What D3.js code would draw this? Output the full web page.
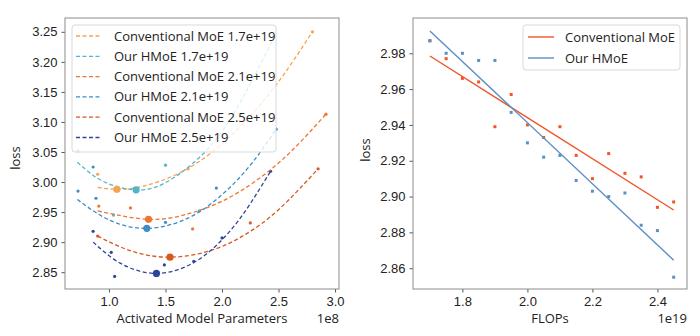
<!DOCTYPE html>
<html>
<head>
<meta charset="utf-8">
<script src="https://cdn.jsdelivr.net/npm/d3@7"></script>
<style>
  body { margin: 0; background: #fff; }
  svg { font-family: "Open Sans", "DejaVu Sans", sans-serif; }
</style>
</head>
<body>
<svg id="chart" width="700" height="336"></svg>
<script>
// ---------- left panel data (params in 1e8, loss) ----------
const leftLabels = [
  "Conventional MoE 1.7e+19", "Our HMoE 1.7e+19",
  "Conventional MoE 2.1e+19", "Our HMoE 2.1e+19",
  "Conventional MoE 2.5e+19", "Our HMoE 2.5e+19"
];
const leftColors = ["#f7a24f", "#52b4cf", "#ec7530", "#3d8cc4", "#d45a1e", "#2f4597"];

const curveConv17 = [[0.90, 2.991], [1.07, 2.988], [1.30, 2.993], [1.60, 3.013], [1.90, 3.048], [2.20, 3.100], [2.50, 3.167], [2.80, 3.250]];
const curveHmoe17 = [[0.72, 3.033], [0.95, 3.001], [1.24, 2.987], [1.50, 2.999], [1.80, 3.041], [2.10, 3.113], [2.46, 3.241]];
const curveConv21 = [[0.90, 2.952], [1.35, 2.938], [1.70, 2.947], [2.00, 2.968], [2.30, 3.002], [2.60, 3.049], [2.92, 3.113]];
const curveHmoe21 = [[0.72, 2.971], [1.00, 2.937], [1.335, 2.923], [1.70, 2.940], [2.00, 2.979], [2.25, 3.028], [2.48, 3.088]];
const curveConv25 = [[0.90, 2.910], [1.20, 2.885], [1.54, 2.875], [1.90, 2.886], [2.20, 2.912], [2.50, 2.954], [2.85, 3.022]];
const curveHmoe25 = [[0.86, 2.900], [1.10, 2.865], [1.42, 2.848], [1.75, 2.866], [2.00, 2.904], [2.20, 2.950], [2.43, 3.018]];
const leftCurves = [curveConv17, curveHmoe17, curveConv21, curveHmoe21, curveConv25, curveHmoe25];

const pointsConv17 = [[0.90, 3.013], [1.70, 3.022], [2.80, 3.250]];
const pointsHmoe17 = [[0.726, 3.052], [1.04, 2.945], [1.50, 3.028], [1.80, 2.952], [2.46, 3.241]];
const pointsConv21 = [[0.91, 2.960], [1.19, 2.957], [1.74, 2.922], [2.92, 3.113]];
const pointsHmoe21 = [[0.726, 2.985], [0.86, 3.025], [0.885, 2.973], [1.50, 2.933], [1.95, 2.990], [2.48, 3.088]];
const pointsConv25 = [[0.90, 2.910], [2.25, 2.932], [2.85, 3.022]];
const pointsHmoe25 = [[0.86, 2.918], [1.02, 2.883], [1.05, 2.843], [1.49, 2.862], [1.75, 2.868], [2.00, 2.907], [2.43, 3.018]];
const leftPoints = [pointsConv17, pointsHmoe17, pointsConv21, pointsHmoe21, pointsConv25, pointsHmoe25];

const leftMinima = [[1.07, 2.988], [1.24, 2.987], [1.35, 2.938], [1.335, 2.923], [1.54, 2.875], [1.42, 2.848]];

const leftXTicks = [1.0, 1.5, 2.0, 2.5, 3.0];
const leftYTicks = [2.85, 2.90, 2.95, 3.00, 3.05, 3.10, 3.15, 3.20, 3.25];

// ---------- right panel data (FLOPs in 1e19, loss) ----------
const flops = [1.70, 1.75, 1.80, 1.85, 1.90, 1.95, 2.00, 2.05, 2.10, 2.15, 2.20, 2.25, 2.30, 2.35, 2.40, 2.45];
const convLoss = [2.987, 2.977, 2.966, 2.964, 2.939, 2.957, 2.940, 2.933, 2.939, 2.923, 2.910, 2.924, 2.913, 2.911, 2.894, 2.897];
const hmoeLoss = [2.987, 2.980, 2.980, 2.976, 2.976, 2.947, 2.930, 2.922, 2.923, 2.909, 2.903, 2.900, 2.902, 2.884, 2.881, 2.855];
const convFit = [[1.70, 2.9785], [2.45, 2.8925]];
const hmoeFit = [[1.70, 2.9925], [2.45, 2.8645]];
const rightLabels = ["Conventional MoE", "Our HMoE"];
const rightColors = ["#f0552a", "#5b8fc5"];
const rightXTicks = [1.8, 2.0, 2.2, 2.4];
const rightYTicks = [2.86, 2.88, 2.90, 2.92, 2.94, 2.96, 2.98];

const svg = d3.select("#chart");
const frameColor = "#8c8c8c";
const fontSize = 13;

function drawFrame(g, x, y, xTicks, yTicks, xFmt, yFmt) {
  const [x0, x1] = x.range();
  const [y0, y1] = y.range();
  g.append("g")
    .attr("transform", `translate(0,${y0})`)
    .call(d3.axisBottom(x).tickValues(xTicks).tickFormat(xFmt).tickSize(3.5).tickPadding(4))
    .call(a => a.select(".domain").remove());
  g.append("g")
    .attr("transform", `translate(${x0},0)`)
    .call(d3.axisLeft(y).tickValues(yTicks).tickFormat(yFmt).tickSize(3.5).tickPadding(4))
    .call(a => a.select(".domain").remove());
  g.selectAll(".tick line").attr("stroke", "#555");
  g.selectAll(".tick text").attr("fill", "#222").style("font-size", fontSize + "px").style("font-family", null);
  g.append("rect")
    .attr("x", x0).attr("y", y1)
    .attr("width", x1 - x0).attr("height", y0 - y1)
    .attr("fill", "none").attr("stroke", frameColor).attr("stroke-width", 1);
}

// ---------- left panel ----------
const xL = d3.scaleLinear().domain([0.611, 3.035]).range([65, 339]);
const yL = d3.scaleLinear().domain([2.822, 3.273]).range([289, 18]);
const gL = svg.append("g");
drawFrame(gL, xL, yL, leftXTicks, leftYTicks, d3.format(".1f"), d3.format(".2f"));

const lineL = d3.line().x(d => xL(d[0])).y(d => yL(d[1])).curve(d3.curveNatural);

leftPoints.forEach((pts, i) => {
  gL.selectAll(null).data(pts).enter().append("circle")
    .attr("cx", d => xL(d[0])).attr("cy", d => yL(d[1]))
    .attr("r", 1.6).attr("fill", leftColors[i]);
});
leftCurves.forEach((c, i) => {
  gL.append("path").datum(c)
    .attr("d", lineL)
    .attr("fill", "none").attr("stroke", leftColors[i])
    .attr("stroke-width", 1.3).attr("stroke-dasharray", "4,2.5");
});
gL.selectAll(null).data(leftMinima).enter().append("circle")
  .attr("cx", d => xL(d[0])).attr("cy", d => yL(d[1]))
  .attr("r", 3.6).attr("fill", (d, i) => leftColors[i]);

// left legend
const legL = gL.append("g");
legL.append("rect")
  .attr("x", 72).attr("y", 25).attr("width", 204).attr("height", 127).attr("rx", 3)
  .attr("fill", "#fff").attr("fill-opacity", 0.8).attr("stroke", "#d9d9d9");
leftLabels.forEach((lab, i) => {
  const yy = 36 + i * 20.3;
  legL.append("line").attr("x1", 76).attr("x2", 100).attr("y1", yy).attr("y2", yy)
    .attr("stroke", leftColors[i]).attr("stroke-width", 1.3).attr("stroke-dasharray", "4,2.5");
  legL.append("text").attr("x", 114).attr("y", yy).attr("dy", "0.35em")
    .style("font-size", fontSize + "px").attr("fill", "#222").text(lab);
});

gL.append("text").attr("transform", "translate(20,158) rotate(-90)")
  .attr("text-anchor", "middle").style("font-size", fontSize + "px").attr("fill", "#222").text("loss");
gL.append("text").attr("x", 202).attr("y", 323)
  .attr("text-anchor", "middle").style("font-size", fontSize + "px").attr("fill", "#222").text("Activated Model Parameters");
gL.append("text").attr("x", 339).attr("y", 323)
  .attr("text-anchor", "end").style("font-size", fontSize + "px").attr("fill", "#222").text("1e8");

// ---------- right panel ----------
const xR = d3.scaleLinear().domain([1.648, 2.491]).range([413, 687]);
const yR = d3.scaleLinear().domain([2.8484, 2.9997]).range([289, 18]);
const gR = svg.append("g");
drawFrame(gR, xR, yR, rightXTicks, rightYTicks, d3.format(".1f"), d3.format(".2f"));

const lineR = d3.line().x(d => xR(d[0])).y(d => yR(d[1]));
[convLoss, hmoeLoss].forEach((vals, i) => {
  gR.selectAll(null).data(flops.map((f, j) => [f, vals[j]])).enter().append("rect")
    .attr("x", d => xR(d[0]) - 1.5).attr("y", d => yR(d[1]) - 1.5)
    .attr("width", 3).attr("height", 3).attr("fill", rightColors[i]);
});
[convFit, hmoeFit].forEach((fit, i) => {
  gR.append("path").datum(fit).attr("d", lineR)
    .attr("fill", "none").attr("stroke", rightColors[i]).attr("stroke-width", 1.4);
});

const legR = gR.append("g");
legR.append("rect")
  .attr("x", 523).attr("y", 25).attr("width", 157).attr("height", 45).attr("rx", 3)
  .attr("fill", "#fff").attr("fill-opacity", 0.8).attr("stroke", "#d9d9d9");
rightLabels.forEach((lab, i) => {
  const yy = 37 + i * 21;
  legR.append("line").attr("x1", 528).attr("x2", 554).attr("y1", yy).attr("y2", yy)
    .attr("stroke", rightColors[i]).attr("stroke-width", 1.4);
  legR.append("text").attr("x", 565).attr("y", yy).attr("dy", "0.35em")
    .style("font-size", fontSize + "px").attr("fill", "#222").text(lab);
});

gR.append("text").attr("transform", "translate(370,150) rotate(-90)")
  .attr("text-anchor", "middle").style("font-size", fontSize + "px").attr("fill", "#222").text("loss");
gR.append("text").attr("x", 550).attr("y", 323)
  .attr("text-anchor", "middle").style("font-size", fontSize + "px").attr("fill", "#222").text("FLOPs");
gR.append("text").attr("x", 687).attr("y", 323)
  .attr("text-anchor", "end").style("font-size", fontSize + "px").attr("fill", "#222").text("1e19");
</script>
</body>
</html>
